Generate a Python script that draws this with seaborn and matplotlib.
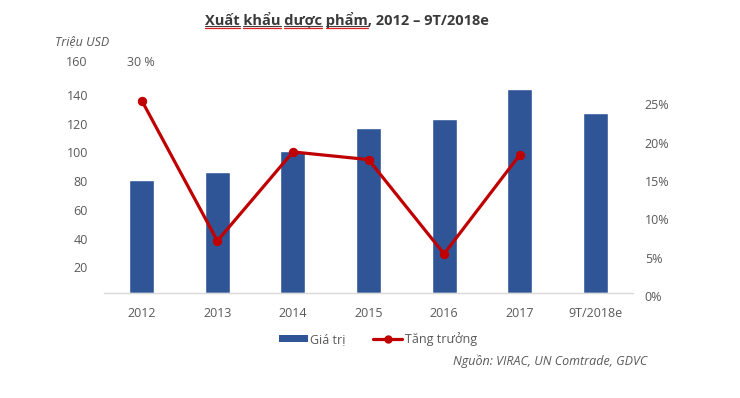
import matplotlib
matplotlib.use("Agg")
import matplotlib.pyplot as plt
from matplotlib.lines import Line2D
from matplotlib.patches import Patch
import matplotlib.transforms as mtransforms
import seaborn as sns
import numpy as np
import pandas as pd

# ---- data ----
categories = ["2012", "2013", "2014", "2015", "2016", "2017", "9T/2018e"]
values = [78.5, 84, 98.5, 115, 121, 142, 125]          # Triệu USD
growth_years = ["2012", "2013", "2014", "2015", "2016", "2017"]
growth = [0.251, 0.068, 0.184, 0.174, 0.051, 0.180]    # Tăng trưởng
left_ticks = [20, 40, 60, 80, 100, 120, 140, 160]
right_ticks = [0, 0.05, 0.10, 0.15, 0.20, 0.25]

title = "Xuất khẩu dược phẩm, 2012 – 9T/2018e"
underlined_words = ["Xuất", "khẩu", "dược", "phẩm"]
unit_label = "Triệu USD"
source = "Nguồn: VIRAC, UN Comtrade, GDVC"
legend_labels = ["Giá trị", "Tăng trưởng"]

BAR = "#2F5597"
LINE = "#C00000"
GRAY = "#595959"

sns.set_theme(style="white")
plt.rcParams["font.family"] = ["Open Sans", "DejaVu Sans"]

W, H = 740, 398
fig = plt.figure(figsize=(W / 100, H / 100), dpi=100)
ax = fig.add_axes([104 / W, 105 / H, (633 - 104) / W, (293 - 63) / H])

df = pd.DataFrame({"cat": categories, "val": values})
sns.barplot(data=df, x="cat", y="val", color=BAR, width=0.33, ax=ax,
            saturation=1, order=categories)
ax.set_ylim(0, 160)
ax.set_xlim(-0.5, len(categories) - 0.5)
ax.set_xlabel("")
ax.set_ylabel("")
ax.set_yticks(left_ticks)
ax.set_yticklabels([str(t) for t in left_ticks[:-1]] + [""])
ax.tick_params(axis="y", length=0, pad=11.5, labelsize=9, labelcolor=GRAY)
ax.tick_params(axis="x", length=0, pad=10, labelsize=9, labelcolor=GRAY)
for s in ["top", "right", "left"]:
    ax.spines[s].set_visible(False)
ax.spines["bottom"].set_color("#D9D9D9")
ax.spines["bottom"].set_linewidth(1)
ax.grid(False)

ax2 = ax.twinx()
gdf = pd.DataFrame({"x": np.arange(len(growth_years)), "g": growth})
sns.lineplot(data=gdf, x="x", y="g", color=LINE, linewidth=2.3, marker="o",
             markersize=6, markeredgecolor=LINE, ax=ax2, legend=False)
ax2.set_ylim(0, 0.30)
ax2.set_yticks(right_ticks)
ax2.set_yticklabels([f"{int(round(t * 100))}%" for t in right_ticks])
ax2.tick_params(axis="y", length=0, pad=8.5, labelsize=9, labelcolor=GRAY)
ax2.set_ylabel("")
ax2.set_xlabel("")
for s in ["top", "right", "left", "bottom"]:
    ax2.spines[s].set_visible(False)
ax2.grid(False)

# shift y tick labels down slightly, as in the reference
off = mtransforms.ScaledTranslation(0, -3 / 100, fig.dpi_scale_trans)
for lab in ax.get_yticklabels() + ax2.get_yticklabels():
    lab.set_transform(lab.get_transform() + off)

# top labels
fig.text(87 / W, 1 - 62 / H, "160", ha="right", va="center", fontsize=9, color=GRAY)
fig.text(127 / W, 1 - 62 / H, "30 %", ha="left", va="center", fontsize=9, color=GRAY)
fig.text(55 / W, 1 - 42 / H, unit_label, ha="left", va="center", fontsize=9,
         color=GRAY, style="italic")

# title
tx, ty = 347 / W, 1 - 20 / H
t = fig.text(tx, ty, title, ha="center", va="center", fontsize=10.5,
             fontweight="bold", color="#3A3A3A")
fig.canvas.draw()
r = fig.canvas.get_renderer()
bb = t.get_window_extent(r)
x0 = bb.x0
ybase = bb.y0 + 1
def width_of(s):
    tt = fig.text(0, 0, s, fontsize=10.5, fontweight="bold")
    w = tt.get_window_extent(r).width
    tt.remove()
    return w
pos = 0
for wd in underlined_words:
    i = title.index(wd, pos)
    a = x0 + width_of(title[:i]) if i > 0 else x0
    b = x0 + width_of(title[:i + len(wd)])
    pos = i + len(wd)
    fig.add_artist(Line2D([a / W, b / W], [(ybase + 1) / H, (ybase + 1) / H],
                          transform=fig.transFigure, color="#404040", lw=0.8))
    fig.add_artist(Line2D([a / W, b / W], [(ybase - 1) / H, (ybase - 1) / H],
                          transform=fig.transFigure, color="#E02020", lw=0.9))

# legend
handles = [Patch(facecolor=BAR, edgecolor="none"),
           Line2D([0], [0], color=LINE, lw=2.3, marker="o", markersize=5)]
fig.legend(handles, legend_labels, loc="center", bbox_to_anchor=(378 / W, 1 - 339 / H),
           ncol=2, frameon=False, fontsize=9, labelcolor=GRAY, handlelength=2.3,
           handletextpad=0.2, columnspacing=2.2, handleheight=0.5)

fig.text(647 / W, 1 - 361 / H, source, ha="right", va="center", fontsize=9,
         color=GRAY, style="italic")

fig.savefig("out.png", dpi=100)
